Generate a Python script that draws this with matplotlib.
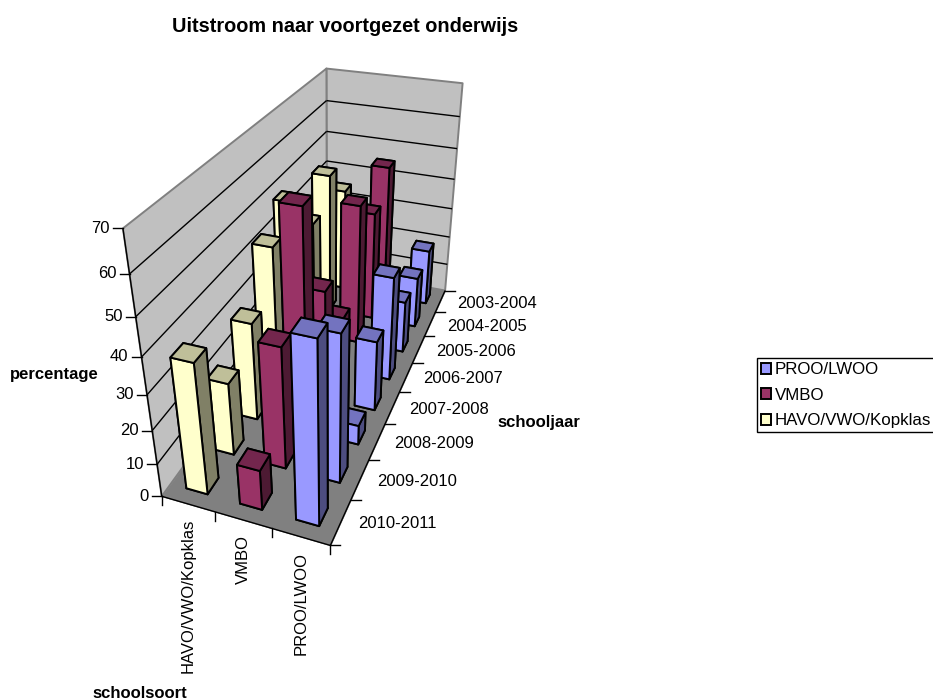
import numpy as np
import matplotlib
matplotlib.use("Agg")
import matplotlib.pyplot as plt
from matplotlib.lines import Line2D
from matplotlib.patches import Patch
from mpl_toolkits.mplot3d.art3d import Poly3DCollection, Line3DCollection

plt.rcParams['font.family'] = ['Liberation Sans', 'DejaVu Sans']

# data, chronological
years = ['2003-2004', '2004-2005', '2005-2006', '2006-2007',
         '2007-2008', '2008-2009', '2009-2010', '2010-2011']
schools = ['HAVO/VWO/Kopklas', 'VMBO', 'PROO/LWOO']
proo = [19, 17, 17, 33, 22, 6, 43, 51]
vmbo = [45, 36, 45, 17, 34, 64, 36, 12]
havo = [35, 46, 37, 50, 44, 30, 22, 38]
z_ticks = [0, 10, 20, 30, 40, 50, 60, 70]

W, H = 933, 700
# front, side, top, per series: front/right/top shading of excel 3d bars
colors = {
    'HAVO/VWO/Kopklas': ('#FFFFCC', '#808066', '#BFBF99'),
    'VMBO': ('#993366', '#4D1A33', '#73264D'),
    'PROO/LWOO': ('#9999FF', '#4D4D80', '#7373BF'),
}

fig = plt.figure(figsize=(W / 100, H / 100), dpi=100)
ax = fig.add_axes([0, 0, 0.75, 1], projection='3d', computed_zorder=False)
ax.set_axis_off()

# camera: solve a projection from the axis box corners to image pixels
box_3d = [(0, 0, 0), (3, 0, 0), (3, 8, 0), (0, 8, 0), (0, 0, 70), (0, 8, 70), (3, 8, 70)]
box_px = [(162, 497), (330, 545), (445, 291), (327, 268), (123, 228), (326, 69), (463, 83)]
rows = []
for (X, Y, Z), (u, v) in zip(box_3d, box_px):
    rows.append([X, Y, Z, 1, 0, 0, 0, 0, -u * X, -u * Y, -u * Z, -u])
    rows.append([0, 0, 0, 0, X, Y, Z, 1, -v * X, -v * Y, -v * Z, -v])
P = np.linalg.svd(np.array(rows))[2][-1].reshape(3, 4)
if P[2] @ [1.5, 4, 0, 1] < 0:
    P = -P


def to_px(x, y, z):
    p = P @ [x, y, z, 1]
    return p[0] / p[2], p[1] / p[2]


def my_proj():
    # pixels -> display -> the 2d data coordinates of the 3d axes
    flip = np.array([[1, 0, 0], [0, -1, H], [0, 0, 1.0]])
    K = np.linalg.inv(ax.transData.get_affine().get_matrix()) @ flip @ P
    w = K[2]
    c = (w @ [1.5, 4, 0, 1]) / 2
    return np.array([K[0], K[1], w - [0, 0, 0, c], w])


ax.get_proj = my_proj

# walls and floor
walls = [[(0, 0, 0), (0, 8, 0), (0, 8, 70), (0, 0, 70)],
         [(0, 8, 0), (3, 8, 0), (3, 8, 70), (0, 8, 70)]]
ax.add_collection3d(Poly3DCollection(walls, facecolor='#C0C0C0', edgecolor='#808080',
                                     linewidth=1.4, zorder=1))
floor = [[(0, 0, 0), (3, 0, 0), (3, 8, 0), (0, 8, 0)]]
ax.add_collection3d(Poly3DCollection(floor, facecolor='#808080', edgecolor='#808080',
                                     linewidth=0.5, zorder=1))
grid = []
for z in z_ticks[1:-1]:
    grid.append([(0, 0, z), (0, 8, z)])
    grid.append([(0, 8, z), (3, 8, z)])
grid.append([(0, 0, 0), (0, 0, 70)])
grid.append([(0, 0, 0), (3, 0, 0)])
grid.append([(3, 0, 0), (3, 8, 0)])
ax.add_collection3d(Line3DCollection(grid, colors='black', linewidths=1, zorder=2))

# bars, back row first and left to right
bar_w = 0.4
series = {'HAVO/VWO/Kopklas': havo, 'VMBO': vmbo, 'PROO/LWOO': proo}
order = 3
for i, year in enumerate(years):
    row = len(years) - 1 - i
    for j, school in enumerate(schools):
        front, side, top = colors[school]
        # bar3d face order: bottom, top, front, back, left, right
        ax.bar3d(j + 0.3, row + 0.3, 0, bar_w, bar_w, series[school][i],
                 color=[side, top, front, side, side, side], shade=False,
                 edgecolor='black', linewidth=1.4, zorder=order)
        order += 1


def tick(x, y, dx, dy):
    fig.add_artist(Line2D([x / W, (x + dx) / W], [1 - y / H, 1 - (y + dy) / H],
                          color='black', lw=1, transform=fig.transFigure))


def label(x, y, s, **kw):
    kw.setdefault('fontsize', 12)
    fig.text(x / W, 1 - y / H, s, **kw)


for z in z_ticks:
    x, y = to_px(0, 0, z)
    tick(x, y, -10, 0)
    label(x - 13, y, str(z), ha='right', va='center')
for j in range(len(schools) + 1):
    x, y = to_px(j, 0, 0)
    tick(x, y, 0, 9)
for j, school in enumerate(schools):
    x, y = to_px(j + 0.5, 0, 0)
    label(x, y + 15, school, rotation=90, ha='center', va='top')
for row in range(len(years) + 1):
    x, y = to_px(3, row, 0)
    tick(x, y, 10, 0)
for i, year in enumerate(years):
    x, y = to_px(3, len(years) - 1 - i + 0.5, 0)
    label(x + 17, y + 2, year, ha='left', va='center')

label(345, 26, 'Uitstroom naar voortgezet onderwijs', fontsize=14.3, fontweight='bold',
      ha='center', va='center')
label(54, 374, 'percentage', fontweight='bold', ha='center', va='center')
label(538.5, 423, 'schooljaar', fontweight='bold', ha='center', va='center')
label(140, 693, 'schoolsoort', fontweight='bold', ha='center', va='center')

handles = [Patch(facecolor=colors[s][0], edgecolor='black', linewidth=1.4, label=s)
           for s in reversed(schools)]
fig.legend(handles=handles, loc='upper left', bbox_to_anchor=(757 / W, 1 - 358 / H),
           borderaxespad=0, fontsize=12.2, handlelength=0.6, handleheight=0.6,
           handletextpad=0.2, labelspacing=0.62, borderpad=0.25,
           fancybox=False, edgecolor='black', framealpha=1)

fig.savefig('out.png', dpi=100)
